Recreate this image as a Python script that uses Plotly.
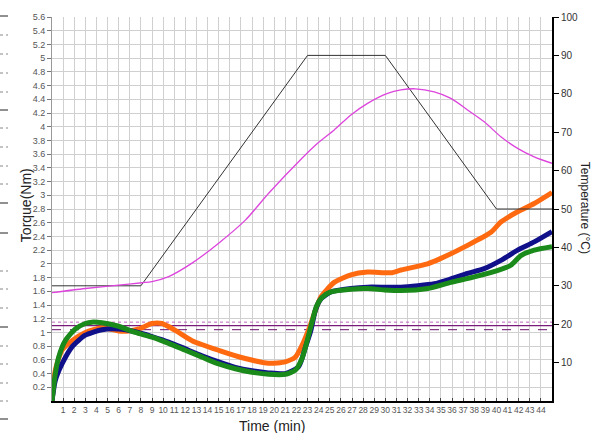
import plotly.graph_objects as go

# ---- data ----
t_orange = [0, 0.3, 0.9, 1.8, 3.0, 4.5, 6.0, 6.9, 7.8, 9.0, 9.9, 11.1, 12.6, 15.0, 17.4, 19.5, 21.0, 21.9,
            22.5, 23.0, 23.3, 23.8, 24.2, 25.4, 26.9, 28.4, 30.5, 31.4, 33.8, 35.0, 37.4, 39.5, 40.4, 41.9, 43.4, 45.0]
orange = [0, 0.45, 0.74, 0.88, 1.00, 1.07, 1.02, 1.02, 1.05, 1.13, 1.13, 1.03, 0.88, 0.74, 0.62, 0.55, 0.57, 0.64,
          0.81, 1.00, 1.13, 1.36, 1.52, 1.73, 1.84, 1.88, 1.87, 1.91, 2.00, 2.08, 2.27, 2.46, 2.61, 2.76, 2.88, 3.04]

t_blue = [0, 0.3, 0.9, 1.8, 3.0, 4.5, 6.0, 7.5, 9.0, 10.5, 12.0, 13.5, 15.0, 16.5, 18.0, 19.5, 21.0, 22.2,
          22.8, 23.3, 23.7, 24.2, 25.1, 26.9, 28.4, 31.4, 34.4, 35.9, 37.4, 38.9, 40.4, 41.9, 43.4, 45.0]
blue = [0, 0.30, 0.54, 0.79, 0.96, 1.04, 1.05, 1.01, 0.94, 0.86, 0.76, 0.66, 0.57, 0.49, 0.44, 0.41, 0.40, 0.50,
        0.78, 1.03, 1.32, 1.49, 1.59, 1.64, 1.66, 1.66, 1.71, 1.78, 1.86, 1.93, 2.05, 2.20, 2.32, 2.47]

t_green = [0, 0.3, 0.6, 1.2, 2.1, 3.0, 3.6, 4.5, 6.0, 7.5, 9.0, 10.5, 12.0, 13.5, 15.0, 16.5, 18.0, 19.5, 21.0,
           21.9, 22.5, 23.0, 23.4, 23.8, 24.3, 25.1, 26.9, 28.4, 29.9, 31.4, 33.8, 35.9, 38.0, 40.4, 41.3, 42.2, 43.4, 45.0]
green = [0, 0.40, 0.64, 0.88, 1.05, 1.13, 1.15, 1.14, 1.09, 1.00, 0.93, 0.84, 0.74, 0.64, 0.54, 0.47, 0.42, 0.39, 0.39,
         0.45, 0.62, 0.90, 1.15, 1.38, 1.51, 1.59, 1.63, 1.64, 1.62, 1.61, 1.64, 1.73, 1.81, 1.92, 1.98, 2.12, 2.20, 2.25]

t_temp = [0, 3.0, 6.0, 8.1, 9.0, 10.5, 12.6, 15.0, 17.4, 19.5, 22.5, 23.9, 25.4, 26.9, 28.4, 30.2, 31.4, 32.7,
          34.4, 35.9, 37.4, 38.9, 40.4, 41.9, 43.4, 45.0]
temp = [28.2, 29.3, 30.2, 30.8, 31.1, 32.4, 35.9, 41.1, 47.1, 54.1, 63.2, 67.1, 70.6, 74.5, 77.5, 80.1, 81.0, 81.3,
        80.5, 78.8, 75.8, 72.7, 68.8, 65.8, 63.6, 61.9]

t_set = [0, 8, 23, 30, 40, 45]
setpoint = [30, 30, 90, 90, 50, 50]

ref_levels = [1.15, 1.10, 1.04]
ref_x = [0, 45]

x_ticks = list(range(1, 45))
y_ticks = [round(0.2 * i, 1) for i in range(1, 29)]
y_ticktext = [("%g" % v) for v in y_ticks]
y2_ticks = list(range(10, 101, 10))

# ---- figure ----
fig = go.Figure()

ref_styles = [dict(color="#c060c0", width=1, dash="dot"),
              dict(color="#7a1a7a", width=1.2, dash="solid"),
              dict(color="#6a106a", width=1, dash="dash")]
for lvl, st in zip(ref_levels, ref_styles):
    fig.add_trace(go.Scatter(x=ref_x, y=[lvl, lvl], mode="lines", line=st, hoverinfo="skip"))

fig.add_trace(go.Scatter(x=t_set, y=setpoint, mode="lines", yaxis="y2",
                         line=dict(color="#333333", width=1)))
fig.add_trace(go.Scatter(x=t_temp, y=temp, mode="lines", yaxis="y2",
                         line=dict(color="#dd44dd", width=1.3, shape="spline", smoothing=0.8)))

fig.add_trace(go.Scatter(x=t_orange, y=orange, mode="lines",
                         line=dict(color="#ff6a10", width=5, shape="spline", smoothing=0.6)))
fig.add_trace(go.Scatter(x=t_blue, y=blue, mode="lines",
                         line=dict(color="#10108a", width=5, shape="spline", smoothing=0.6)))
fig.add_trace(go.Scatter(x=t_green, y=green, mode="lines",
                         line=dict(color="#1a8a1a", width=5, shape="spline", smoothing=0.6)))

font_fam = "Arial, Liberation Sans, sans-serif"

fig.update_layout(
    width=593, height=433,
    margin=dict(l=52, r=41, t=17, b=32, autoexpand=False),
    paper_bgcolor="white", plot_bgcolor="white",
    showlegend=False,
    font=dict(family=font_fam),
    xaxis=dict(range=[0, 45], tickvals=x_ticks, ticktext=[str(v) for v in x_ticks],
               tickangle=0, automargin=False,
               showgrid=True, gridcolor="#d0d0d0", gridwidth=1,
               showline=True, linecolor="#000000", linewidth=1.5,
               ticks="inside", ticklen=3, tickcolor="#444",
               tickfont=dict(size=8.5, color="#555"), zeroline=False),
    yaxis=dict(range=[0, 5.6], tickvals=y_ticks, ticktext=y_ticktext, automargin=False,
               showgrid=True, gridcolor="#d0d0d0", gridwidth=1,
               showline=True, linecolor="#999999", linewidth=1,
               ticks="outside", ticklen=4, tickcolor="#777",
               tickfont=dict(size=9, color="#555"), zeroline=False),
    yaxis2=dict(range=[0, 100], tickvals=y2_ticks, overlaying="y", side="right", anchor="x",
                automargin=False,
                showgrid=False, showline=True, linecolor="#000000", linewidth=2,
                ticks="outside", ticklen=5, tickcolor="#000",
                tickfont=dict(size=10, color="#333"), zeroline=False),
)

fig.add_annotation(text="Torque(Nm)", xref="paper", yref="paper", x=-0.052, y=0.51,
                   xanchor="center", yanchor="middle",
                   textangle=-90, showarrow=False, font=dict(size=14, color="#222"))
fig.add_annotation(text="Time (min)", xref="paper", yref="paper", x=0.44, y=-0.065,
                   xanchor="center", yanchor="middle",
                   showarrow=False, font=dict(size=14, color="#222"))
fig.add_annotation(text="Temperature (°C)", xref="paper", yref="paper", x=1.066, y=0.503,
                   xanchor="center", yanchor="middle",
                   textangle=90, showarrow=False, font=dict(size=12, color="#222"))

# margin marks at the far left of the picture
solid_marks = [16, 110, 203, 233, 327, 419]
dotted_marks = [35, 54, 73, 92, 128, 147, 166, 184, 271, 289, 308, 346, 364, 383, 401]
for py in solid_marks:
    yp = (401 - py) / 384
    fig.add_shape(type="line", xref="paper", yref="paper", x0=-0.104, x1=-0.088, y0=yp, y1=yp,
                  line=dict(color="#222", width=1))
for py in dotted_marks:
    yp = (401 - py) / 384
    fig.add_shape(type="line", xref="paper", yref="paper", x0=-0.104, x1=-0.088, y0=yp, y1=yp,
                  line=dict(color="#888", width=1, dash="dot"))

fig.write_html("out.html", config={"displayModeBar": False},
               post_script="document.body.style.margin='0';document.body.style.overflow='hidden';")
